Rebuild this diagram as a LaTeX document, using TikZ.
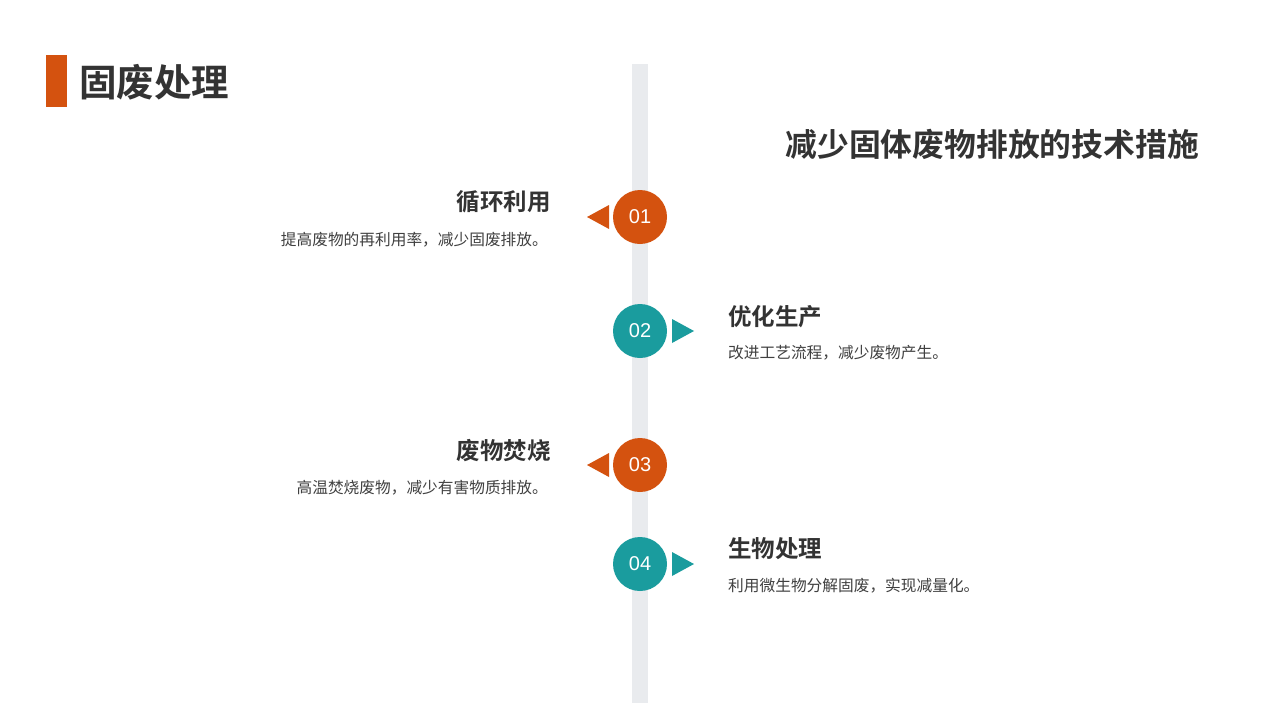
\documentclass[tikz,border=0pt]{standalone}
\usepackage{fontspec}
\setmainfont{Liberation Sans}
\newfontfamily\cjk{Noto Sans CJK SC}
\newfontfamily\cjkb{Noto Sans CJK SC Bold}
\definecolor{orng}{HTML}{D4520F}
\definecolor{teal2}{HTML}{1A9C9E}
\definecolor{barg}{HTML}{E9EBEE}
\definecolor{txt}{HTML}{333333}
\definecolor{dtxt}{HTML}{404040}
\begin{document}
\begin{tikzpicture}[x=1pt,y=-1pt,
  numc/.style={circle,minimum size=54pt,inner sep=0pt,text=white,font=\fontsize{20}{20}\selectfont},
  head/.style={text=txt,inner sep=0pt,font=\cjkb\fontsize{23.5}{24}\selectfont},
  desc/.style={text=dtxt,inner sep=0pt,font=\cjk\fontsize{15.7}{16}\selectfont}]
\useasboundingbox (0,0) rectangle (1280,720);
\fill[white] (0,0) rectangle (1280,720);
% title
\fill[orng] (46,55) rectangle (67,107);
\node[anchor=west,inner sep=0pt,text=txt,font=\cjkb\fontsize{37.5}{38}\selectfont] (title) at (79,82) {固废处理};
\node[anchor=east,inner sep=0pt,text=txt,font=\cjkb\fontsize{31.8}{32}\selectfont] (sub) at (1199,144) {减少固体废物排放的技术措施};
% bar
\fill[barg] (632,64) rectangle (648,703);
% items
\node[numc,fill=orng] (c1) at (640,217) {01};
\fill[orng] (587,217) -- (609,205) -- (609,229) -- cycle;
\node[head,anchor=east] (h1) at (551,202) {循环利用};
\node[desc,anchor=east] (d1) at (548,240) {提高废物的再利用率，减少固废排放。};

\node[numc,fill=teal2] (c2) at (640,331) {02};
\fill[teal2] (694,331) -- (672,319) -- (672,343) -- cycle;
\node[head,anchor=west] (h2) at (728,317) {优化生产};
\node[desc,anchor=west] (d2) at (728,353) {改进工艺流程，减少废物产生。};

\node[numc,fill=orng] (c3) at (640,465) {03};
\fill[orng] (587,465) -- (609,453) -- (609,477) -- cycle;
\node[head,anchor=east] (h3) at (551,451) {废物焚烧};
\node[desc,anchor=east] (d3) at (548,488) {高温焚烧废物，减少有害物质排放。};

\node[numc,fill=teal2] (c4) at (640,564) {04};
\fill[teal2] (694,564) -- (672,552) -- (672,576) -- cycle;
\node[head,anchor=west] (h4) at (728,549) {生物处理};
\node[desc,anchor=west] (d4) at (728,586) {利用微生物分解固废，实现减量化。};
\end{tikzpicture}
\end{document}
